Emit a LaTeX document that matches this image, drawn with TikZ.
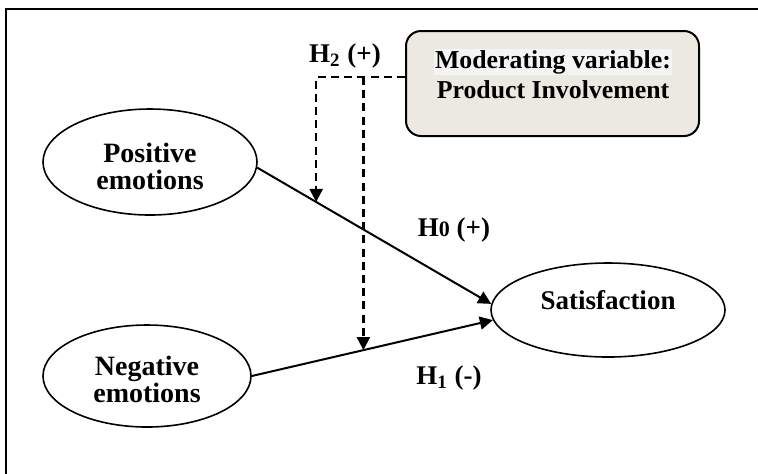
\documentclass[tikz,border=0pt]{standalone}
\usepackage{fontspec}
\setmainfont{Liberation Serif}
\usetikzlibrary{shapes.geometric,arrows.meta,calc}
\definecolor{modfill}{RGB}{236,234,224}
\definecolor{hlgray}{RGB}{244,244,244}
\begin{document}
\begin{tikzpicture}[x=0.5pt,y=-0.5pt,
  font=\bfseries\fontsize{13.5}{13.5}\selectfont,
  oval/.style={ellipse,draw,line width=0.8pt,inner sep=0pt},
  txt/.style={align=center,inner sep=0pt},
  flow/.style={line width=1pt,-{Triangle[length=6.5pt,width=6.5pt]}},
  moddash/.style={dash pattern=on 4pt off 2.6pt,line width=1.1pt},
  modtip/.style={-{Triangle[length=6.5pt,width=6.5pt]}},
  lab/.style={inner sep=0pt,anchor=center}]
\useasboundingbox (0,0) rectangle (758,473);
\begin{scope}
  \clip (0,0) rectangle (758,473);
  \draw[line width=1pt] (6,9) rectangle (800,520);
\end{scope}
% ellipses
\node[oval,minimum width=107pt,minimum height=53pt] (pe) at (150,162) {};
\node[txt,font=\bfseries\fontsize{14}{13.5}\selectfont] (pet) at (150,166) {Positive\\emotions};
\node[oval,minimum width=104pt,minimum height=51pt] (ne) at (147,376) {};
\node[txt,font=\bfseries\fontsize{14}{13.5}\selectfont] (net) at (147,379) {Negative\\emotions};
\node[oval,minimum width=117pt,minimum height=47pt] (sat) at (608,310) {};
\node[txt] (satt) at (608,300) {Satisfaction};
% moderating box
\node[draw,line width=1pt,rounded corners=7.5pt,fill=modfill,minimum width=146.5pt,minimum height=52.5pt,inner sep=0pt] (mod) at (552.5,83.5) {};
\node[txt,font=\bfseries\fontsize{12.9}{15}\selectfont] (modt) at (553,74) {{\setlength{\fboxsep}{0.5pt}\colorbox{hlgray}{Moderating variable:}}\\Product Involvement};
% main arrows
\draw[flow] (pe.-3) -- (sat.177) coordinate[pos=0.252] (m1);
\draw[flow] (ne.east) -- (sat.185) coordinate[pos=0.463] (m2);
% moderating dashed lines
\coordinate (tl) at (0,77);
\draw[moddash,modtip] (mod.west |- tl) -- (m1 |- tl) -- (m1);
\draw[moddash,modtip] (m2 |- tl) -- (m2);
% labels
\node[lab] (h2) at (345,56) {H$_{\mathbf{2}}$ (+)};
\node[lab] (h0) at (454,230) {H{\fontsize{11}{12}\selectfont 0} (+)};
\node[lab] (h1) at (449,378) {H$_{\mathbf{1}}$ (-)};
\end{tikzpicture}
\end{document}
